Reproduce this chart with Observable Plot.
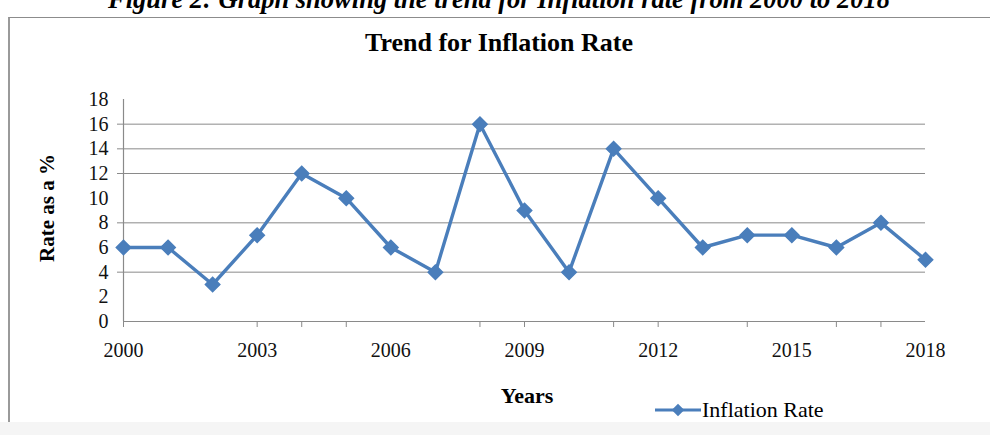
<!DOCTYPE html>
<html>
<head>
<meta charset="utf-8">
<script src="https://cdn.jsdelivr.net/npm/d3@7"></script>
<script src="https://cdn.jsdelivr.net/npm/@observablehq/plot@0.6"></script>
<style>
  html, body { margin: 0; padding: 0; background: #fff; }
  #wrap { position: relative; width: 990px; height: 435px; overflow: hidden; font-family: "Liberation Serif", "Times New Roman", serif; color: #000; }
  #frame { position: absolute; left: 8px; top: 17px; width: 1000px; height: 404px; border-left: 2px solid #9a9a9a; border-top: 1px solid #8c8c8c; border-bottom: 1px solid #e8e8e8; }
  #foot { position: absolute; left: 0; top: 422px; width: 990px; height: 13px; background: #f5f5f5; }
  #caption { position: absolute; left: 4px; width: 990px; text-align: center; top: -14px; font-size: 26.5px; line-height: 26px; font-weight: bold; font-style: italic; white-space: nowrap; }
  #title { position: absolute; left: 0; width: 998px; text-align: center; top: 30px; font-size: 26px; line-height: 26px; font-weight: bold; }
  #ytitle { position: absolute; left: 47px; top: 208px; transform: translate(-50%, -50%) rotate(-90deg); font-size: 21px; font-weight: bold; white-space: nowrap; }
  #xtitle { position: absolute; left: 527px; top: 396px; transform: translate(-50%, -50%); font-size: 22px; font-weight: bold; }
  #legend { position: absolute; left: 655px; top: 397px; display: flex; align-items: center; font-size: 22px; }
  #legend svg { margin-right: 1px; }
  #chart { position: absolute; left: 0; top: 0; }
</style>
</head>
<body>
<div id="wrap">
  <div id="frame"></div>
  <div id="foot"></div>
  <div id="caption">Figure 2: Graph showing the trend for Inflation rate from 2000 to 2018</div>
  <div id="chart"></div>
  <div id="title">Trend for Inflation Rate</div>
  <div id="ytitle">Rate as a %</div>
  <div id="xtitle">Years</div>
  <div id="legend"></div>
</div>
<script>
// Annual inflation rate, 2000–2018
const years = [2000, 2001, 2002, 2003, 2004, 2005, 2006, 2007, 2008, 2009, 2010, 2011, 2012, 2013, 2014, 2015, 2016, 2017, 2018];
const rates = [6, 6, 3, 7, 12, 10, 6, 4, 16, 9, 4, 14, 10, 6, 7, 7, 6, 8, 5];

// Axis labelling
const yTickLabels = [0, 2, 4, 6, 8, 10, 12, 14, 16, 18];
const xTickLabels = [2000, 2003, 2006, 2009, 2012, 2015, 2018];
const gridValues = [4, 8, 12, 14, 16];
const xTickMarks = [2000, 2003, 2004, 2005, 2008, 2009, 2011, 2012, 2014, 2016, 2017];

const seriesName = "Inflation Rate";
const blue = "#4a7ebb";
const axisGray = "#8a8a8a";

const data = years.map((year, i) => ({year, rate: rates[i]}));

const chart = Plot.plot({
  width: 990,
  height: 435,
  marginLeft: 123,
  marginRight: 65,
  marginTop: 99,
  marginBottom: 114,
  style: {background: "transparent", fontFamily: "'Liberation Serif', 'Times New Roman', serif", fontSize: "20px", color: "#000"},
  x: {domain: [2000, 2018], type: "linear", label: null},
  y: {domain: [0, 18], label: null},
  marks: [
    Plot.gridY(gridValues, {stroke: axisGray, strokeOpacity: 1, strokeWidth: 1}),
    Plot.axisY(gridValues, {tickSize: 6, stroke: axisGray, text: null, label: null}),
    Plot.axisY(yTickLabels, {tickSize: 0, tickPadding: 15, label: null, fontSize: 20, fill: "#111"}),
    Plot.axisX(xTickMarks, {tickSize: 6, stroke: axisGray, text: null, label: null}),
    Plot.axisX(xTickLabels, {tickSize: 0, tickPadding: 21, label: null, tickFormat: d => String(d), fontSize: 20, fill: "#111"}),
    Plot.ruleX([2000], {stroke: axisGray, strokeWidth: 1.2}),
    Plot.ruleY([0], {stroke: axisGray, strokeWidth: 1.2}),
    Plot.line(data, {x: "year", y: "rate", stroke: blue, strokeWidth: 3.4}),
    Plot.dot(data, {x: "year", y: "rate", symbol: "diamond2", r: 6.5, fill: blue, stroke: blue})
  ]
});
document.getElementById("chart").appendChild(chart);

// Legend: line with a diamond marker, then the series name
const legend = d3.select("#legend");
const ls = legend.append("svg").attr("width", 46).attr("height", 20);
ls.append("line").attr("x1", 0).attr("x2", 46).attr("y1", 10).attr("y2", 10).attr("stroke", blue).attr("stroke-width", 3);
ls.append("path").attr("d", d3.symbol(d3.symbolDiamond2, 100)()).attr("transform", "translate(23,10)").attr("fill", blue);
legend.append("span").text(seriesName);
</script>
</body>
</html>
